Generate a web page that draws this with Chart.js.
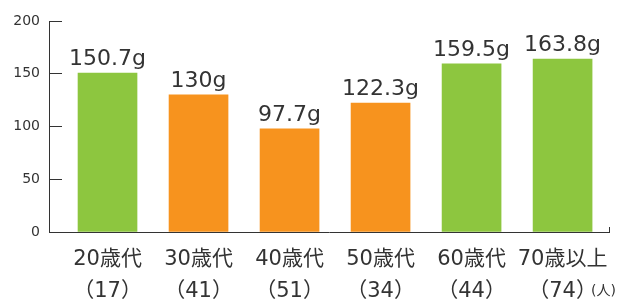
<!DOCTYPE html>
<html>
<head>
<meta charset="utf-8">
<script src="https://cdn.jsdelivr.net/npm/chart.js@4/dist/chart.umd.min.js"></script>
<style>
  html, body { margin: 0; padding: 0; background: #fff; }
  #wrap { width: 625px; height: 299px; }
</style>
</head>
<body>
<div id="wrap"><canvas id="chart"></canvas></div>
<script>
// data
const ages = ["20歳代", "30歳代", "40歳代", "50歳代", "60歳代", "70歳以上"];
const counts = [17, 41, 51, 34, 44, 74];
const grams = [150.7, 130, 97.7, 122.3, 159.5, 163.8];
const barColors = ["#8dc63f", "#f7931e", "#f7931e", "#f7931e", "#8dc63f", "#8dc63f"];
const yTicks = [0, 50, 100, 150, 200];
const unitLabel = "(人)";

const FONT = "'DejaVu Sans', 'Noto Sans CJK JP', sans-serif";
const TEXT = "#333";
const X_MIN = -0.643, X_MAX = 5.51;

// value labels above bars + the (人) note
const labelsPlugin = {
  id: "labels",
  afterDatasetsDraw(chart) {
    const ctx = chart.ctx;
    const meta = chart.getDatasetMeta(0);
    ctx.save();
    ctx.fillStyle = TEXT;
    ctx.font = "22px " + FONT;
    ctx.textAlign = "center";
    ctx.textBaseline = "alphabetic";
    meta.data.forEach((bar, i) => {
      ctx.fillText(grams[i] + "g", bar.x, bar.y - 8);
    });
    ctx.font = "14px " + FONT;
    ctx.textAlign = "left";
    ctx.textBaseline = "middle";
    ctx.fillText(unitLabel, chart.chartArea.right - 18, 291);
    ctx.restore();
  }
};

new Chart(document.getElementById("chart"), {
  type: "bar",
  data: {
    datasets: [{
      data: grams.map((g, i) => ({ x: i, y: g })),
      backgroundColor: barColors,
      barThickness: 59
    }]
  },
  options: {
    responsive: true,
    maintainAspectRatio: false,
    animation: false,
    layout: { padding: { top: 21, right: 16, left: 0, bottom: 0 } },
    plugins: { legend: { display: false }, tooltip: { enabled: false } },
    scales: {
      x: {
        type: "linear",
        offset: false,
        min: X_MIN,
        max: X_MAX,
        afterBuildTicks: s => { s.ticks = ages.map((a, i) => ({ value: i })).concat([{ value: X_MAX }]); },
        afterFit: s => { s.height = 67; s.paddingLeft = 0; s.paddingRight = 0; },
        border: { display: true, color: TEXT, width: 1 },
        grid: {
          offset: false,
          drawOnChartArea: false,
          tickLength: -5,
          color: c => (c.tick && c.tick.value === X_MAX ? TEXT : "rgba(0,0,0,0)")
        },
        ticks: {
          autoSkip: false,
          maxRotation: 0,
          padding: 17,
          color: TEXT,
          font: { family: FONT, size: 21, lineHeight: "32px" },
          callback: v => (Number.isInteger(v) && ages[v] ? [ages[v], "（" + counts[v] + "）"] : "")
        }
      },
      y: {
        min: 0,
        max: 200,
        afterBuildTicks: s => { s.ticks = yTicks.map(v => ({ value: v })); },
        afterFit: s => { s.width = 49; s.paddingTop = 0; s.paddingBottom = 0; },
        border: { display: true, color: TEXT, width: 1 },
        grid: { drawOnChartArea: false, tickLength: -13, color: TEXT },
        ticks: {
          padding: 22,
          color: TEXT,
          font: { family: FONT, size: 14 }
        }
      }
    }
  },
  plugins: [labelsPlugin]
});
</script>
</body>
</html>
